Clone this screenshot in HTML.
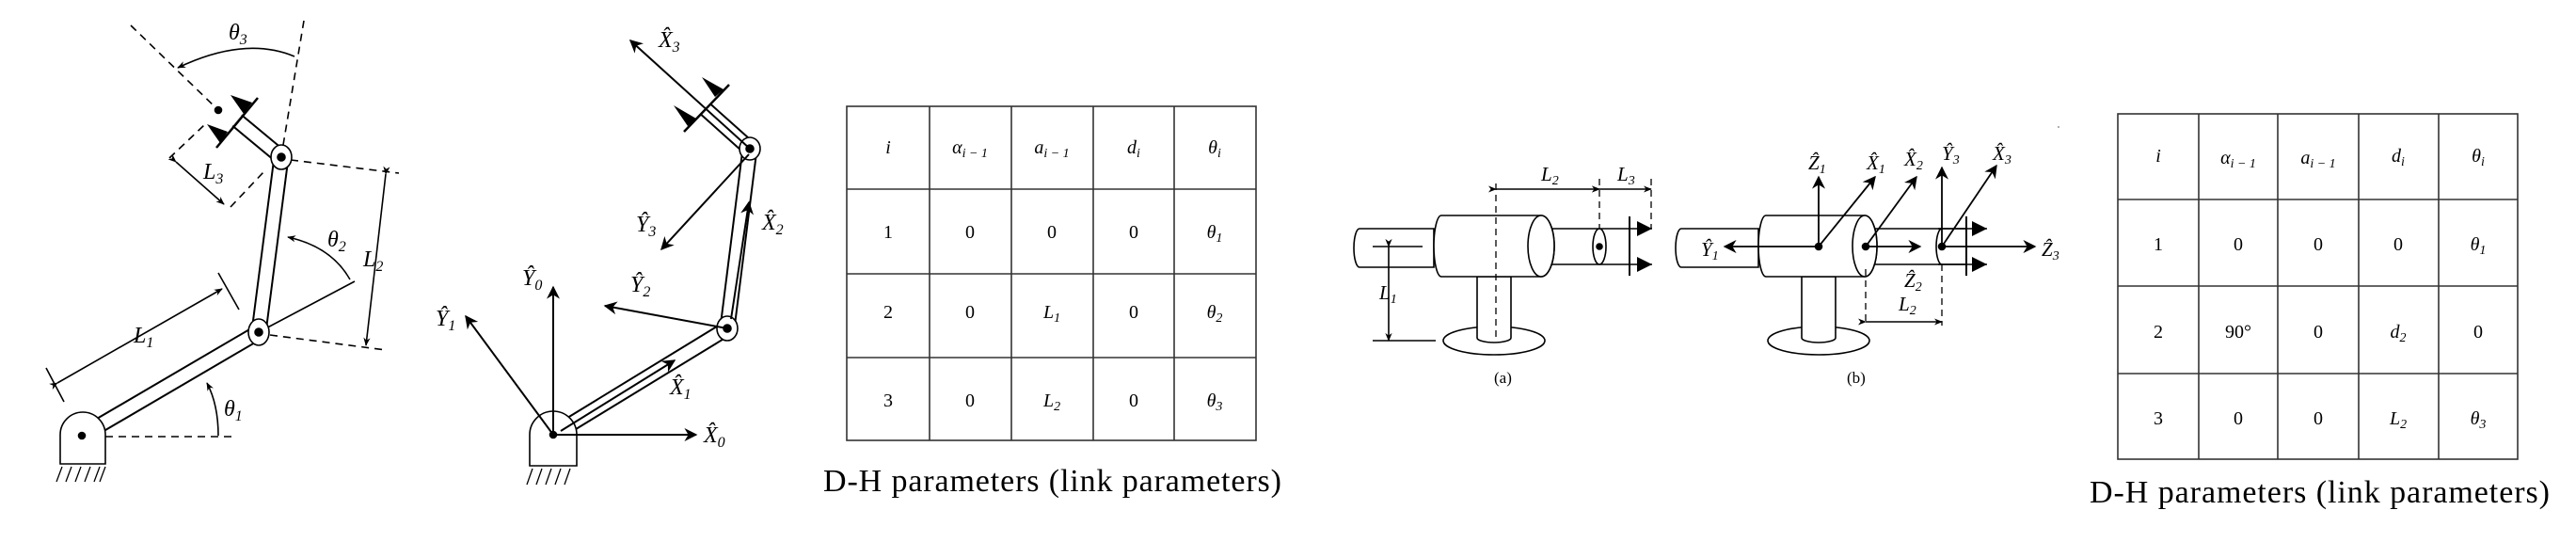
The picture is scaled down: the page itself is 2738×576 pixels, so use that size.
<!DOCTYPE html>
<html><head><meta charset="utf-8"><style>
html,body{margin:0;padding:0;background:#fff;}
svg{display:block}
text{font-family:"Liberation Serif",serif;fill:#000}
.it{font-style:italic}
.sn{font-family:"DejaVu Sans","Liberation Sans",sans-serif}
</style></head><body>
<svg width="2738" height="576" viewBox="0 0 2738 576" xmlns="http://www.w3.org/2000/svg">
<defs>
<marker id="a" viewBox="0 0 10 10" refX="9" refY="5" markerWidth="9" markerHeight="9" markerUnits="userSpaceOnUse" orient="auto"><path d="M0,1 L10,5 L0,9 L3,5 Z" fill="#000"/></marker>
<marker id="b" viewBox="0 0 10 10" refX="9" refY="5" markerWidth="14" markerHeight="14" markerUnits="userSpaceOnUse" orient="auto"><path d="M0,0 L10,5 L0,10 L3,5 Z" fill="#000"/></marker>
<marker id="f" viewBox="0 0 10 10" refX="10" refY="5" markerWidth="22" markerHeight="16" markerUnits="userSpaceOnUse" orient="auto"><path d="M0,0 L10,5 L0,10 Z" fill="#000"/></marker>
</defs>
<rect width="2738" height="576" fill="#fff"/>

<!-- ===== Left robot ===== -->
<g stroke="#000" fill="none" stroke-width="1.6">
<g stroke-dasharray="8,6">
<line x1="112" y1="464" x2="252" y2="464"/>
<line x1="139" y1="27" x2="232" y2="117"/>
<line x1="323" y1="22" x2="299" y2="166"/>
<line x1="180" y1="168" x2="217" y2="133"/>
<line x1="245" y1="220" x2="280" y2="183"/>
<line x1="309" y1="170" x2="424" y2="184"/>
<line x1="287" y1="356" x2="410" y2="372"/>
</g>
<line x1="275" y1="353" x2="377" y2="299"/>
<line x1="87" y1="463" x2="275" y2="353" stroke-width="17"/>
<line x1="87" y1="463" x2="275" y2="353" stroke="#fff" stroke-width="13"/>
<line x1="275" y1="353" x2="299" y2="167" stroke-width="17"/>
<line x1="275" y1="353" x2="299" y2="167" stroke="#fff" stroke-width="13"/>
<line x1="299" y1="167" x2="252" y2="128" stroke-width="17"/>
<line x1="299" y1="167" x2="252" y2="128" stroke="#fff" stroke-width="13"/>
<ellipse cx="275" cy="353" rx="11" ry="14" fill="#fff"/>
<circle cx="275" cy="353" r="4" fill="#000"/>
<ellipse cx="299" cy="167" rx="11" ry="13" fill="#fff"/>
<circle cx="299" cy="167" r="4" fill="#000"/>
<line x1="230" y1="157" x2="274" y2="104" stroke-width="2.5"/>
<polygon points="220,132 242,140 234,152" fill="#000" stroke="none"/>
<polygon points="245,101 268,109 259,121" fill="#000" stroke="none"/>
<circle cx="232" cy="117" r="3.5" fill="#000"/>
<path d="M64,493 V462 A24,24 0 0 1 112,462 V493 Z" fill="#fff"/>
<circle cx="87" cy="463" r="3.5" fill="#000"/>
<path d="M66,496 L60,512 M76,496 L70,512 M86,496 L80,512 M96,496 L90,512 M106,496 L100,512 M112,496 L106,512" stroke-width="1.3"/>
<line x1="187" y1="172" x2="238" y2="217" marker-start="url(#a)" marker-end="url(#a)"/>
<path d="M313,60 Q260,38 189,72" marker-end="url(#a)"/>
<path d="M372,297 Q352,262 306,252" marker-end="url(#a)"/>
<line x1="410" y1="185" x2="389" y2="367" marker-start="url(#a)" marker-end="url(#a)"/>
<line x1="61" y1="407" x2="236" y2="307" marker-start="url(#a)" marker-end="url(#a)"/>
<line x1="49" y1="391" x2="68" y2="427"/>
<line x1="232" y1="290" x2="254" y2="329"/>
<path d="M232,463 Q232,430 220,407" marker-end="url(#a)"/>
</g>
<g class="it" font-size="24">
<text x="243" y="42">θ<tspan font-size="16" dy="5">3</tspan></text>
<text x="216" y="190">L<tspan font-size="16" dy="5">3</tspan></text>
<text x="348" y="262">θ<tspan font-size="16" dy="5">2</tspan></text>
<text x="386" y="283">L<tspan font-size="16" dy="5">2</tspan></text>
<text x="142" y="364">L<tspan font-size="16" dy="5">1</tspan></text>
<text x="238" y="442">θ<tspan font-size="16" dy="5">1</tspan></text>
</g>

<!-- ===== Right robot ===== -->
<g stroke="#000" fill="none" stroke-width="1.6">
<line x1="588" y1="462" x2="773" y2="349" stroke-width="17"/>
<line x1="588" y1="462" x2="773" y2="349" stroke="#fff" stroke-width="13"/>
<line x1="773" y1="349" x2="797" y2="158" stroke-width="17"/>
<line x1="773" y1="349" x2="797" y2="158" stroke="#fff" stroke-width="13"/>
<line x1="797" y1="158" x2="750" y2="116" stroke-width="17"/>
<line x1="797" y1="158" x2="750" y2="116" stroke="#fff" stroke-width="13"/>
<ellipse cx="773" cy="349" rx="11" ry="13" fill="#fff"/>
<circle cx="773" cy="349" r="4" fill="#000"/>
<ellipse cx="797" cy="158" rx="11" ry="12" fill="#fff"/>
<circle cx="797" cy="158" r="4" fill="#000"/>
<line x1="727" y1="140" x2="775" y2="90" stroke-width="2.5"/>
<polygon points="716,112 740,126 731,134" fill="#000" stroke="none"/>
<polygon points="746,82 769,95 760,103" fill="#000" stroke="none"/>
<path d="M563,495 V462 A25,25 0 0 1 613,462 V495 Z" fill="#fff"/>
<circle cx="588" cy="462" r="3.5" fill="#000"/>
<path d="M566,498 L560,515 M576,498 L570,515 M586,498 L580,515 M596,498 L590,515 M606,498 L600,515" stroke-width="1.3"/>
<g stroke-width="2">
<line x1="797" y1="158" x2="670" y2="43" marker-end="url(#b)"/>
<line x1="796" y1="164" x2="703" y2="265" marker-end="url(#b)"/>
<line x1="777" y1="339" x2="796" y2="215" marker-end="url(#b)"/>
<line x1="773" y1="349" x2="643" y2="325" marker-end="url(#b)"/>
<line x1="588" y1="462" x2="588" y2="305" marker-end="url(#b)"/>
<line x1="588" y1="462" x2="495" y2="336" marker-end="url(#b)"/>
<line x1="596" y1="458" x2="717" y2="383" marker-end="url(#b)"/>
<line x1="588" y1="462" x2="740" y2="462" marker-end="url(#b)"/>
</g>
</g>
<g class="it" font-size="24">
<text x="700" y="50">X̂<tspan font-size="16" dy="5">3</tspan></text>
<text x="676" y="246">Ŷ<tspan font-size="16" dy="5">3</tspan></text>
<text x="810" y="244">X̂<tspan font-size="16" dy="5">2</tspan></text>
<text x="670" y="310">Ŷ<tspan font-size="16" dy="5">2</tspan></text>
<text x="555" y="303">Ŷ<tspan font-size="16" dy="5">0</tspan></text>
<text x="463" y="346">Ŷ<tspan font-size="16" dy="5">1</tspan></text>
<text x="712" y="419">X̂<tspan font-size="16" dy="5">1</tspan></text>
<text x="748" y="470">X̂<tspan font-size="16" dy="5">0</tspan></text>
</g>

<!-- ===== Table 1 ===== -->
<g stroke="#333" stroke-width="1.6" fill="none">
<rect x="900" y="113" width="435" height="355"/>
<line x1="900" y1="201" x2="1335" y2="201"/><line x1="900" y1="291" x2="1335" y2="291"/><line x1="900" y1="380" x2="1335" y2="380"/>
<line x1="988" y1="113" x2="988" y2="468"/><line x1="1075" y1="113" x2="1075" y2="468"/><line x1="1162" y1="113" x2="1162" y2="468"/><line x1="1248" y1="113" x2="1248" y2="468"/>
</g>
<g text-anchor="middle" font-size="20">
<g class="it"><text x="944" y="163">i</text><text x="1031" y="163">α<tspan font-size="14" dy="4">i − 1</tspan></text><text x="1118" y="163">a<tspan font-size="14" dy="4">i − 1</tspan></text><text x="1205" y="163">d<tspan font-size="14" dy="4">i</tspan></text><text x="1291" y="163">θ<tspan font-size="14" dy="4">i</tspan></text></g>
<g class="sn"><text x="944" y="253">1</text><text x="1031" y="253">0</text><text x="1118" y="253">0</text><text x="1205" y="253">0</text>
<text x="944" y="338">2</text><text x="1031" y="338">0</text><text x="1205" y="338">0</text>
<text x="944" y="432">3</text><text x="1031" y="432">0</text><text x="1205" y="432">0</text></g>
<g class="it"><text x="1291" y="253">θ<tspan font-size="14" dy="4">1</tspan></text><text x="1118" y="338">L<tspan font-size="14" dy="4">1</tspan></text><text x="1291" y="338">θ<tspan font-size="14" dy="4">2</tspan></text><text x="1118" y="432">L<tspan font-size="14" dy="4">2</tspan></text><text x="1291" y="432">θ<tspan font-size="14" dy="4">3</tspan></text></g>
</g>
<text x="875" y="522" font-size="34" textLength="487">D-H parameters (link parameters)</text>

<!-- ===== Middle figure (a) ===== -->
<g stroke="#000" fill="#fff" stroke-width="1.6">
<ellipse cx="1588" cy="362" rx="54" ry="15"/>
<path d="M1570,294 V359 A18,5 0 0 0 1606,359 V294 Z"/>
<path d="M1445,243 H1524 V284 H1445 A6,20.5 0 0 1 1445,243 Z"/>
<path d="M1640,243 H1732 V281 H1640 Z"/>
<ellipse cx="1700" cy="262" rx="7" ry="19"/>
<circle cx="1700" cy="262" r="3" fill="#000"/>
<path d="M1532,229 H1638 A14,32.5 0 0 1 1638,294 H1532 A8,32.5 0 0 1 1532,229 Z"/>
<ellipse cx="1638" cy="261.5" rx="14" ry="32.5"/>
<g fill="none">
<line x1="1732" y1="230" x2="1732" y2="293" stroke-width="2"/>
<line x1="1732" y1="243" x2="1756" y2="243" marker-end="url(#f)"/>
<line x1="1732" y1="281" x2="1756" y2="281" marker-end="url(#f)"/>
<g stroke-dasharray="7,5" stroke-width="1.3">
<line x1="1590" y1="195" x2="1590" y2="359"/>
<line x1="1700" y1="190" x2="1700" y2="243"/>
<line x1="1755" y1="190" x2="1755" y2="243"/>
</g>
<line x1="1590" y1="201" x2="1700" y2="201" marker-start="url(#a)" marker-end="url(#a)"/>
<line x1="1700" y1="201" x2="1755" y2="201" marker-start="url(#a)" marker-end="url(#a)"/>
<line x1="1459" y1="262" x2="1512" y2="262"/>
<line x1="1459" y1="362" x2="1526" y2="362"/>
<line x1="1476" y1="262" x2="1476" y2="362" marker-start="url(#a)" marker-end="url(#a)"/>
</g>
</g>
<g class="it" font-size="21">
<text x="1638" y="192">L<tspan font-size="14" dy="4">2</tspan></text>
<text x="1719" y="192">L<tspan font-size="14" dy="4">3</tspan></text>
<text x="1466" y="318">L<tspan font-size="14" dy="4">1</tspan></text>
</g>
<text x="1588" y="407" font-size="17">(a)</text>

<!-- ===== Middle figure (b) ===== -->
<g stroke="#000" fill="#fff" stroke-width="1.6">
<ellipse cx="1933" cy="362" rx="54" ry="15"/>
<path d="M1915,294 V359 A18,5 0 0 0 1951,359 V294 Z"/>
<path d="M1787,243 H1869 V284 H1787 A6,20.5 0 0 1 1787,243 Z"/>
<path d="M1985,243 H2090 V281 H1985 Z"/>
<path d="M2064,243 A6,19 0 0 0 2064,281" fill="none"/>
<path d="M1877,229 H1982 A13,32.5 0 0 1 1982,294 H1877 A8,32.5 0 0 1 1877,229 Z"/>
<ellipse cx="1982" cy="261.5" rx="13" ry="32.5"/>
<g fill="none">
<line x1="2090" y1="230" x2="2090" y2="293" stroke-width="2"/>
<line x1="2060" y1="243" x2="2112" y2="243" marker-end="url(#f)"/>
<line x1="2060" y1="281" x2="2112" y2="281" marker-end="url(#f)"/>
<g stroke-dasharray="7,5" stroke-width="1.3">
<line x1="1983" y1="286" x2="1983" y2="346"/>
<line x1="2064" y1="281" x2="2064" y2="346"/>
</g>
<line x1="1983" y1="342" x2="2064" y2="342" marker-start="url(#a)" marker-end="url(#a)"/>
<g stroke-width="1.8">
<line x1="1933" y1="262" x2="1833" y2="262" marker-end="url(#b)"/>
<line x1="1933" y1="262" x2="1933" y2="188" marker-end="url(#b)"/>
<line x1="1933" y1="262" x2="1993" y2="188" marker-end="url(#b)"/>
<line x1="1983" y1="262" x2="2037" y2="188" marker-end="url(#b)"/>
<line x1="1983" y1="262" x2="2041" y2="262" marker-end="url(#b)"/>
<line x1="2064" y1="262" x2="2064" y2="178" marker-end="url(#b)"/>
<line x1="2064" y1="262" x2="2122" y2="176" marker-end="url(#b)"/>
<line x1="2064" y1="262" x2="2163" y2="262" marker-end="url(#b)"/>
</g>
</g>
<circle cx="1933" cy="262" r="3.5" fill="#000"/>
<circle cx="1983" cy="262" r="3.5" fill="#000"/>
<circle cx="2064" cy="262" r="3.5" fill="#000"/>
</g>
<g class="it" font-size="21">
<text x="1808" y="272">Ŷ<tspan font-size="14" dy="4">1</tspan></text>
<text x="1922" y="180">Ẑ<tspan font-size="14" dy="4">1</tspan></text>
<text x="1984" y="180">X̂<tspan font-size="14" dy="4">1</tspan></text>
<text x="2024" y="176">X̂<tspan font-size="14" dy="4">2</tspan></text>
<text x="2024" y="305">Ẑ<tspan font-size="14" dy="4">2</tspan></text>
<text x="2064" y="170">Ŷ<tspan font-size="14" dy="4">3</tspan></text>
<text x="2118" y="170">X̂<tspan font-size="14" dy="4">3</tspan></text>
<text x="2170" y="272">Ẑ<tspan font-size="14" dy="4">3</tspan></text>
<text x="2018" y="330">L<tspan font-size="14" dy="4">2</tspan></text>
</g>
<text x="1963" y="407" font-size="17">(b)</text>
<circle cx="2188" cy="135" r="1" fill="#999"/>

<!-- ===== Table 2 ===== -->
<g stroke="#333" stroke-width="1.6" fill="none">
<rect x="2251" y="121" width="425" height="367"/>
<line x1="2251" y1="212" x2="2676" y2="212"/><line x1="2251" y1="304" x2="2676" y2="304"/><line x1="2251" y1="397" x2="2676" y2="397"/>
<line x1="2337" y1="121" x2="2337" y2="488"/><line x1="2421" y1="121" x2="2421" y2="488"/><line x1="2507" y1="121" x2="2507" y2="488"/><line x1="2592" y1="121" x2="2592" y2="488"/>
</g>
<g text-anchor="middle" font-size="20">
<g class="it"><text x="2294" y="172">i</text><text x="2379" y="174">α<tspan font-size="14" dy="4">i − 1</tspan></text><text x="2464" y="174">a<tspan font-size="14" dy="4">i − 1</tspan></text><text x="2549" y="172">d<tspan font-size="14" dy="4">i</tspan></text><text x="2634" y="172">θ<tspan font-size="14" dy="4">i</tspan></text></g>
<g class="sn"><text x="2294" y="266">1</text><text x="2379" y="266">0</text><text x="2464" y="266">0</text><text x="2549" y="266">0</text>
<text x="2294" y="359">2</text><text x="2379" y="359">90°</text><text x="2464" y="359">0</text><text x="2634" y="359">0</text>
<text x="2294" y="451">3</text><text x="2379" y="451">0</text><text x="2464" y="451">0</text></g>
<g class="it"><text x="2634" y="266">θ<tspan font-size="14" dy="4">1</tspan></text><text x="2549" y="359">d<tspan font-size="14" dy="4">2</tspan></text><text x="2549" y="451">L<tspan font-size="14" dy="4">2</tspan></text><text x="2634" y="451">θ<tspan font-size="14" dy="4">3</tspan></text></g>
</g>
<text x="2221" y="534" font-size="34" textLength="489">D-H parameters (link parameters)</text>
</svg>
</body></html>
